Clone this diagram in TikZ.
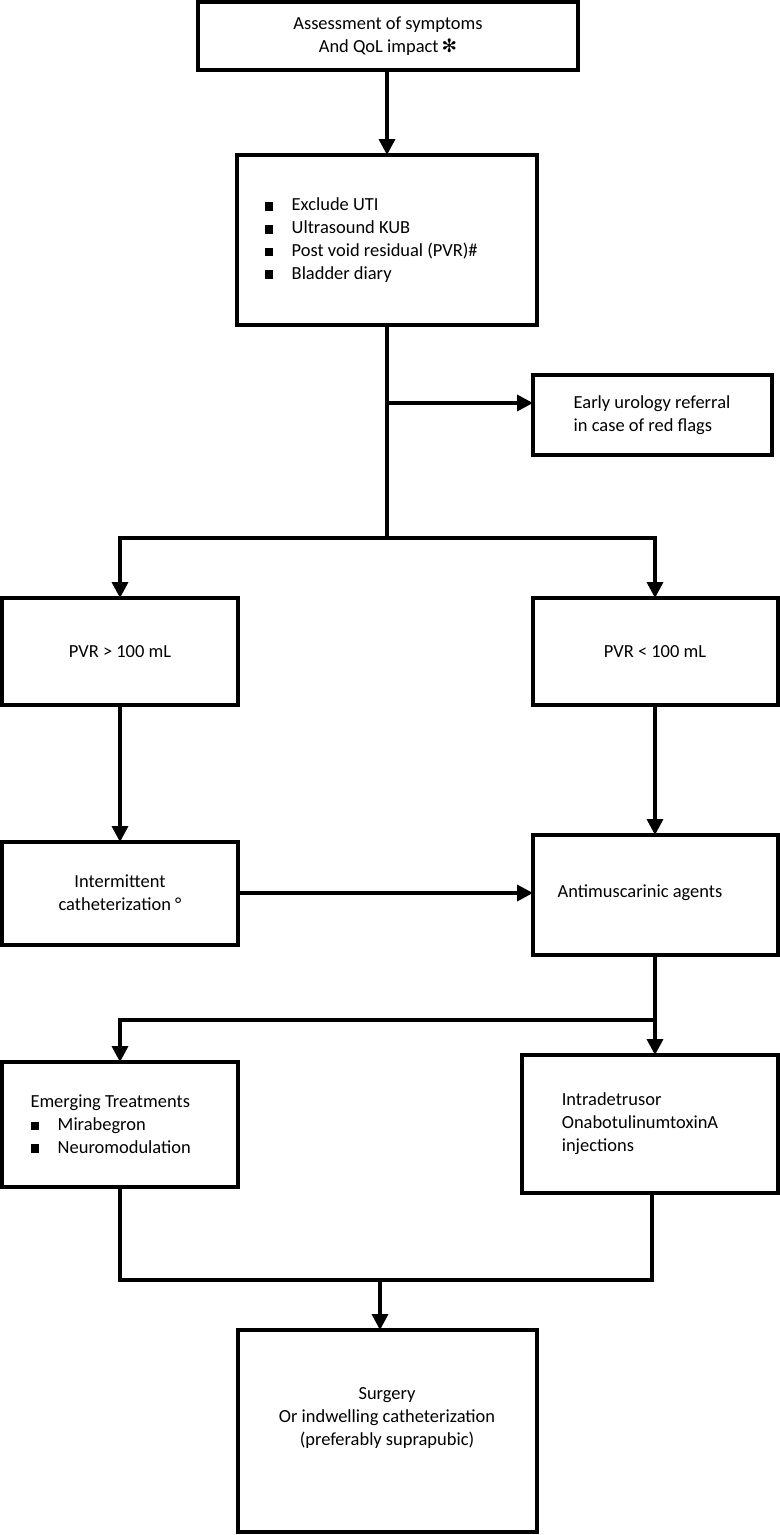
\documentclass[tikz,border=0pt]{standalone}
\usepackage{fontspec}
\setmainfont{Carlito}
\newfontfamily\symfont{DejaVu Sans}
\usetikzlibrary{arrows.meta}
\begin{document}
\begin{tikzpicture}[x=0.02cm,y=-0.02cm,
	box/.style={draw,line width=2pt,inner sep=0pt},
	flow/.style={line width=2pt,-{Triangle[length=9pt,width=9pt]}},
	link/.style={line width=2pt}]
	\fontsize{10.5}{13}\selectfont
	\useasboundingbox (0,0) rectangle (780,1535);
	
	% Boxes
	\draw[box] (198,2) rectangle (578,70);
	\node[align=center] (assess) at (388,36) {Assessment of symptoms\\And QoL impact\,{\symfont ✻}};
	\draw[box] (237,155) rectangle (537,325);
	\node[align=left,anchor=west] (tests) at (258,240) {\rule{5pt}{5pt}\quad Exclude UTI\\\rule{5pt}{5pt}\quad Ultrasound KUB\\\rule{5pt}{5pt}\quad Post void residual (PVR)\#\\\rule{5pt}{5pt}\quad Bladder diary};
	\draw[box] (533,375) rectangle (772,455);
	\node[align=left] (flags) at (652,415) {Early urology referral\\in case of red flags};
	\draw[box] (2,598) rectangle (238,705);
	\node (high) at (120,652) {PVR > 100 mL};
	\draw[box] (533,598) rectangle (778,705);
	\node (low) at (655,652) {PVR < 100 mL};
	\draw[box] (2,842) rectangle (238,945);
	\node[align=center] (cath) at (120,893) {Intermittent\\catheterization °};
	\draw[box] (533,835) rectangle (778,955);
	\node (anti) at (640,893) {Antimuscarinic agents};
	\draw[box] (2,1062) rectangle (238,1187);
	\node[align=left,anchor=west] (emerge) at (24,1124) {Emerging Treatments\\\rule{5pt}{5pt}\quad Mirabegron\\\rule{5pt}{5pt}\quad Neuromodulation};
	\draw[box] (522,1055) rectangle (778,1193);
	\node[align=left] (botox) at (640,1124) {Intradetrusor\\OnabotulinumtoxinA\\injections};
	\draw[box] (238,1330) rectangle (537,1532);
	\node[align=center] (surgery) at (387,1418) {Surgery\\Or indwelling catheterization\\(preferably suprapubic)};
	
	% Connectors
	\coordinate (split) at (387,538);
	\coordinate (join) at (380,1280);
	\coordinate (fork) at (655,1020);
	\draw[flow] (387,70) -- (387,155);
	\draw[link] (387,325) -- (split);
	\draw[flow] (387,403) -- (533,403);
	\draw[flow] (split) -| (120,598);
	\draw[flow] (split) -| (655,598);
	\draw[flow] (120,705) -- (120,842);
	\draw[flow] (655,705) -- (655,835);
	\draw[flow] (238,893) -- (533,893);
	\draw[link] (655,955) -- (fork);
	\draw[flow] (fork) -| (120,1062);
	\draw[flow] (fork) -- (655,1055);
	\draw[link] (120,1187) |- (join) -| (652,1193);
	\draw[flow] (join) -- (380,1330);
	
\end{tikzpicture}
\end{document}
